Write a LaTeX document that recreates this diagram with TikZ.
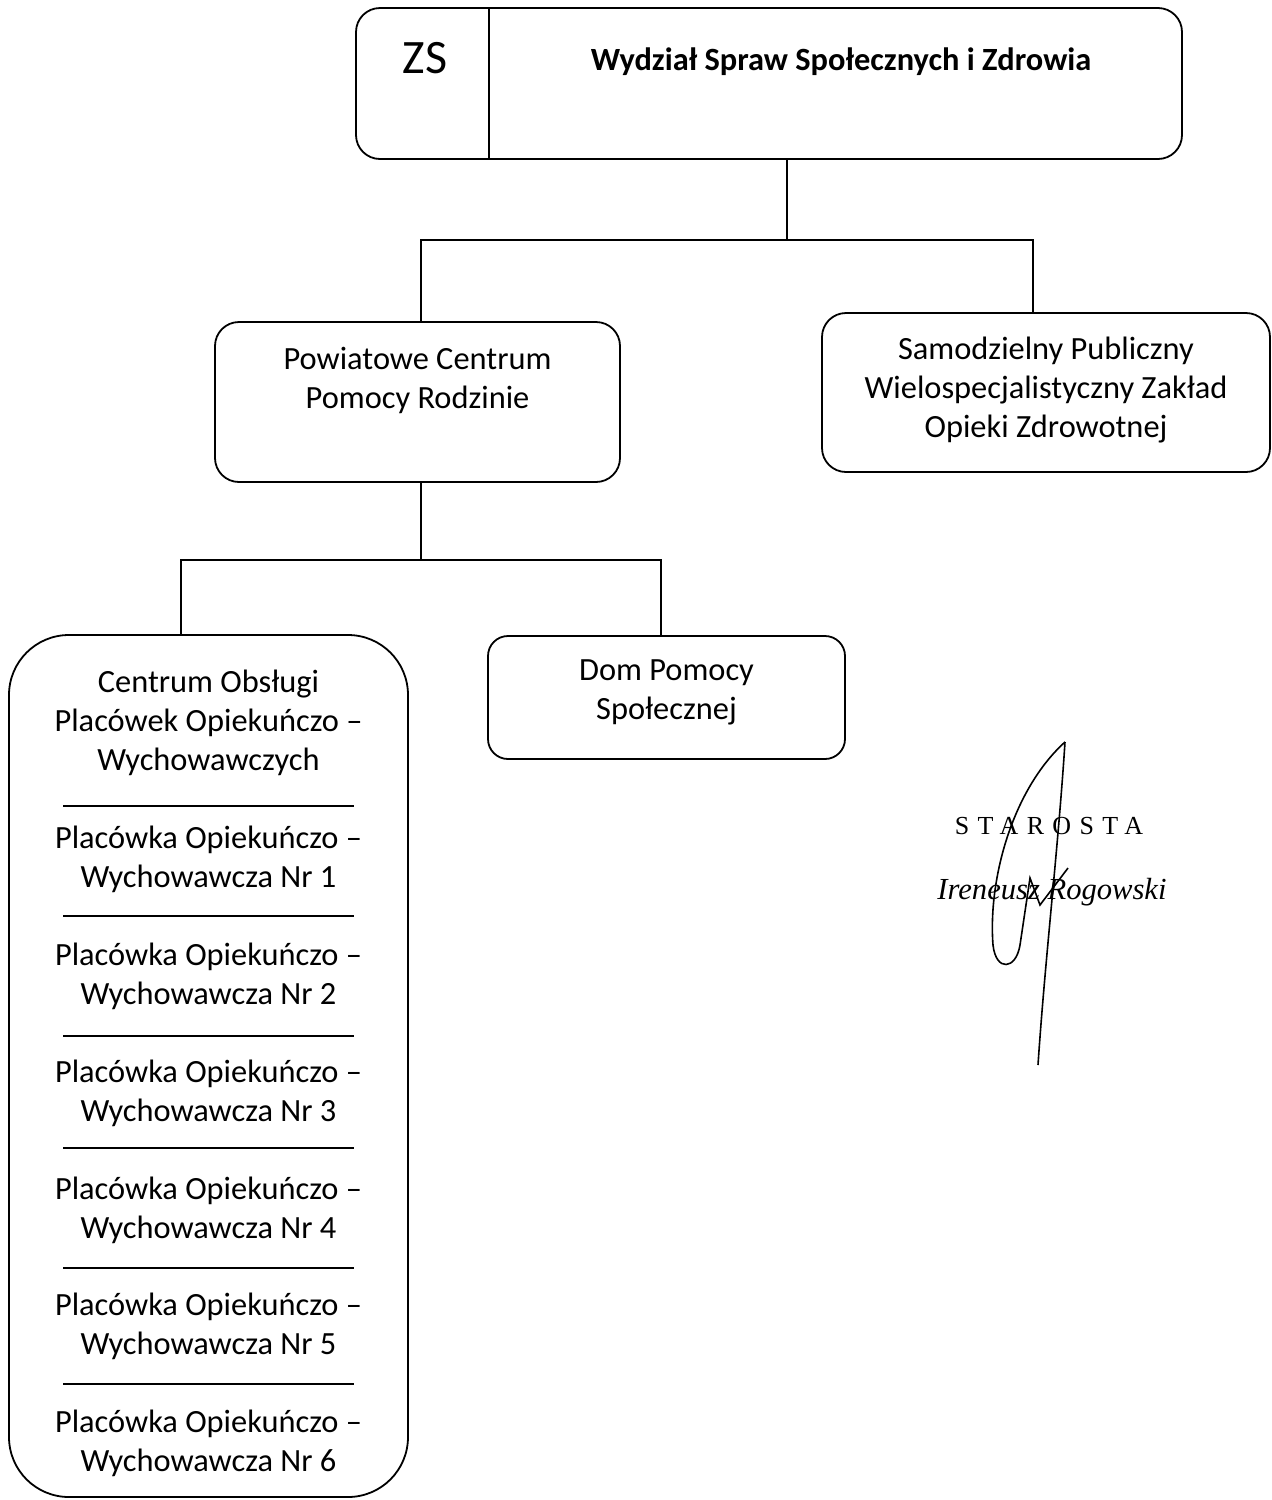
\documentclass[tikz,border=0pt]{standalone}
\usepackage{fontspec}
\setmainfont{Carlito}
\newfontfamily\stampfont[LetterSpace=32]{Liberation Serif}
\newfontfamily\namefont{Liberation Serif}
\usetikzlibrary{positioning}

\begin{document}
\begin{tikzpicture}[x=0.5pt,y=-0.5pt,line width=0.9pt,
    box/.style={draw,rounded corners=12pt,inner sep=0pt},
    txt/.style={inner sep=0pt,align=center,font=\fontsize{16.2}{19.5}\selectfont}]
    \useasboundingbox (0,0) rectangle (1271,1500);
    \node[box,minimum width=413pt,minimum height=75.5pt] (zs) at (769,83.5) {};
    \draw ([xshift=67pt]zs.north west) -- ([xshift=67pt]zs.south west);
    \node[txt,font=\fontsize{24}{28}\selectfont] (zsname) at (425,58) {ZS};
    \node[txt,font=\bfseries\fontsize{16.2}{19}\selectfont] (zstitle) at (841,62) {Wydział Spraw Społecznych i Zdrowia};

    \node[box,minimum width=202.5pt,minimum height=80pt] (pcpr) at (417.5,402) {};
    \node[txt] (pcprtext) at (417.5,380) {Powiatowe Centrum\\Pomocy Rodzinie};
    \node[box,minimum width=224pt,minimum height=79.5pt] (spz) at (1046,392.5) {};
    \node[txt] (spztext) at (1046,390) {Samodzielny Publiczny\\Wielospecjalistyczny Zakład\\Opieki Zdrowotnej};
    \node[box,rounded corners=10pt,minimum width=178.5pt,minimum height=61.5pt] (dom) at (666.5,697.5) {};
    \node[txt] (domtext) at (666.5,692) {Dom Pomocy\\Społecznej};
    \node[box,rounded corners=30pt,minimum width=199.5pt,minimum height=431pt] (cowz) at (208.5,1066) {};
    \node[txt] (cowztext) at (208.5,723) {Centrum Obsługi\\Placówek Opiekuńczo --\\Wychowawczych};
    \foreach \i in {1,...,6}
        \node[txt] (pow\i) at (208.5,{859.5+116.8*(\i-1)}) {Placówka Opiekuńczo --\\Wychowawcza Nr \i};
    \foreach \y in {806,916,1036,1148,1268,1384}
        \draw (63,\y) -- (354,\y);

    \coordinate (j1) at (787,240);
    \coordinate (j2) at (421,560);
    \draw ([xshift=9pt]zs.south) -- (j1);
    \draw ([xshift=1.75pt]pcpr.north) |- (j1) -| ([xshift=-6.5pt]spz.north);
    \draw ([xshift=1.75pt]pcpr.south) -- (j2);
    \draw ([xshift=-13.75pt]cowz.north) |- (j2) -| ([xshift=-2.75pt]dom.north);

    \node[inner sep=0pt,font=\stampfont\fontsize{13}{15}\selectfont] (starosta) at (1049,826) {STAROSTA};
    \node[inner sep=0pt,font=\namefont\itshape\fontsize{15.3}{18}\selectfont] (starname) at (1052,892) {Ireneusz Rogowski};
    \draw[line width=0.8pt] (1065,742) .. controls (1012,790) and (988,880) .. (993,945)
        .. controls (996,972) and (1016,970) .. (1020,945) -- (1030,878) -- (1040,905) -- (1068,868);
    \draw[line width=0.8pt] (1065,742) .. controls (1058,850) and (1045,960) .. (1038,1065);
\end{tikzpicture}
\end{document}
